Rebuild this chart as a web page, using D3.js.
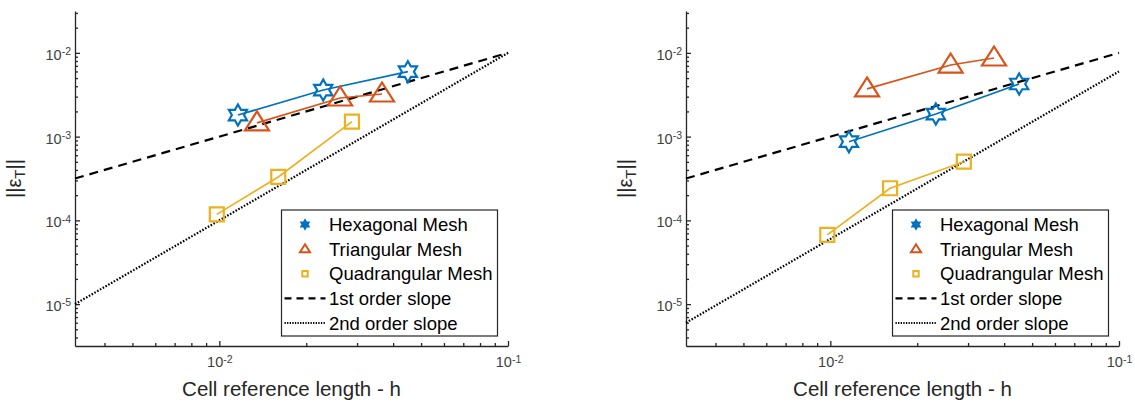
<!DOCTYPE html>
<html>
<head>
<meta charset="utf-8">
<script src="https://cdn.jsdelivr.net/npm/d3@7"></script>
<style>
  body { margin: 0; background: #fff; }
  svg { font-family: "Liberation Sans", Arial, Helvetica, sans-serif; }
  .tick text { font-size: 14.5px; font-family: "Liberation Sans", Arial, sans-serif; fill: #404040; }
  .tick text tspan { font-size: 10.5px; }
</style>
</head>
<body>
<svg id="chart" width="1135" height="403"></svg>
<script>
// mesh sizes (h) and errors
var hexH_a = [0.0116, 0.0229, 0.0450];
var hexErr_a = [1.81e-3, 3.6e-3, 5.96e-3];
var triH_a = [0.0135, 0.0262, 0.0366];
var triErr_a = [1.46e-3, 2.89e-3, 3.23e-3];
var quadH_a = [0.0098, 0.0160, 0.0288];
var quadErr_a = [1.18e-4, 3.3e-4, 1.51e-3];

var hexH_b = [0.0116, 0.0232, 0.0451];
var hexErr_b = [8.7e-4, 1.86e-3, 4.25e-3];
var triH_b = [0.0134, 0.0261, 0.0369];
var triErr_b = [3.71e-3, 7.16e-3, 8.69e-3];
var quadH_b = [0.00976, 0.0161, 0.0290];
var quadErr_b = [6.7e-5, 2.42e-4, 5.02e-4];

// reference slopes
var slopeH = [0.00316228, 0.1];
var slope1_a = [3.16228e-4, 1e-2];
var slope2_a = [1e-5, 1e-2];
var slope1_b = [3.16228e-4, 1e-2];
var slope2_b = [6e-6, 6e-3];

var xMajor = [0.01, 0.1];
var yMajor = [1e-5, 1e-4, 1e-3, 1e-2];
var legendNames = ['Hexagonal Mesh', 'Triangular Mesh', 'Quadrangular Mesh', '1st order slope', '2nd order slope'];

var blue = '#0072bd', orange = '#d95319', yellow = '#edb120';
var axisColor = '#262626';

var svg = d3.select('#chart');

function minorTicks(lo, hi) {
	var out = [];
	for (var e = -6; e <= 0; e++) {
		for (var m = 2; m <= 9; m++) {
			var v = m * Math.pow(10, e);
			if (v > lo * 1.0001 && v < hi * 0.9999) out.push(v);
		}
	}
	return out;
}

function hexagram(r) {
	var pts = [];
	for (var k = 0; k < 12; k++) {
		var ang = -Math.PI / 2 + k * Math.PI / 6;
		var rr = (k % 2 == 0) ? r : r / Math.sqrt(3);
		pts.push([rr * Math.cos(ang), rr * Math.sin(ang)]);
	}
	return 'M' + pts.map(function(p) { return p[0].toFixed(2) + ',' + p[1].toFixed(2); }).join('L') + 'Z';
}
function triangle(s) {
	return 'M0,' + (-11.5 * s) + 'L' + (12 * s) + ',' + (7.5 * s) + 'L' + (-12 * s) + ',' + (7.5 * s) + 'Z';
}
function square(h) {
	return 'M' + (-h) + ',' + (-h) + 'H' + h + 'V' + h + 'H' + (-h) + 'Z';
}

function supLabel(sel) {
	sel.each(function(d) {
		var t = d3.select(this);
		var e = Math.round(Math.log10(d));
		t.text('10');
		t.append('tspan').attr('dy', '-0.45em').text(e);
	});
}

function panel(x0, series, s1, s2) {
	var w = 433, top = 11, h = 335;
	var x = d3.scaleLog().domain([Math.pow(10, -2.5), 0.1]).range([x0, x0 + w]);
	var y = d3.scaleLog().domain([Math.pow(10, -5.5), Math.pow(10, -1.5)]).range([top + h, top]);

	var g = svg.append('g');

	// minor ticks
	g.append('g').attr('transform', 'translate(0,' + (top + h) + ')')
		.call(d3.axisBottom(x).tickValues(minorTicks(x.domain()[0], x.domain()[1])).tickSize(-3).tickFormat(''))
		.call(function(a) { a.select('.domain').remove(); });
	g.append('g').attr('transform', 'translate(' + x0 + ',0)')
		.call(d3.axisLeft(y).tickValues(minorTicks(y.domain()[0], y.domain()[1])).tickSize(-3).tickFormat(''))
		.call(function(a) { a.select('.domain').remove(); });

	var xa = g.append('g').attr('transform', 'translate(0,' + (top + h) + ')')
		.call(d3.axisBottom(x).tickValues(xMajor).tickSizeInner(-5).tickSizeOuter(0).tickPadding(11));
	xa.attr('font-size', 14.5).attr('font-family', '"Liberation Sans", Arial, sans-serif');
	xa.selectAll('.tick text').call(supLabel);
	var ya = g.append('g').attr('transform', 'translate(' + x0 + ',0)')
		.call(d3.axisLeft(y).tickValues(yMajor).tickSizeInner(-5).tickSizeOuter(0).tickPadding(4));
	ya.attr('font-size', 14.5).attr('font-family', '"Liberation Sans", Arial, sans-serif');
	ya.selectAll('.tick text').call(supLabel).attr('dy', '0.45em');

	g.selectAll('.domain, .tick line').attr('stroke', axisColor).attr('stroke-width', 1.3);

	var line = d3.line().x(function(d) { return x(d[0]); }).y(function(d) { return y(d[1]); });

	// reference slopes
	g.append('path').datum(d3.zip(slopeH, s1)).attr('d', line)
		.attr('fill', 'none').attr('stroke', '#000').attr('stroke-width', 2.2).attr('stroke-dasharray', '9,6');
	g.append('path').datum(d3.zip(slopeH, s2)).attr('d', line)
		.attr('fill', 'none').attr('stroke', '#000').attr('stroke-width', 2.2).attr('stroke-dasharray', '1.6,1.6');

	series.forEach(function(s) {
		var pts = d3.zip(s.h, s.err);
		g.append('path').datum(pts).attr('d', line)
			.attr('fill', 'none').attr('stroke', s.color).attr('stroke-width', 1.7);
		g.selectAll(null).data(pts).enter().append('path')
			.attr('transform', function(d) { return 'translate(' + x(d[0]) + ',' + y(d[1]) + ')'; })
			.attr('d', s.shape)
			.attr('fill', 'none').attr('stroke', s.color).attr('stroke-width', 2.2);
	});

	// axis labels
	g.append('text').attr('x', x0 + w / 2).attr('y', 396).attr('text-anchor', 'middle')
		.style('font-size', '20.5px').attr('fill', '#262626').text('Cell reference length - h');
	var yl = g.append('text').attr('transform', 'translate(' + (x0 - 54) + ',' + (top + h / 2) + ') rotate(-90)')
		.attr('text-anchor', 'middle').style('font-size', '20px').attr('fill', '#262626');
	yl.append('tspan').text('||ε');
	yl.append('tspan').attr('dy', '4').style('font-size', '15px').text('T');
	yl.append('tspan').attr('dy', '-4').text('||');

	// legend
	var lx = x0 + 206.5, ly = 210;
	var lg = g.append('g').attr('transform', 'translate(' + lx + ',' + ly + ')');
	lg.append('rect').attr('x', 0).attr('y', 0).attr('width', 216).attr('height', 126)
		.attr('fill', '#fff').attr('stroke', axisColor).attr('stroke-width', 1.2);
	var rowY = d3.scaleLinear().domain([0, 4]).range([14.5, 113]);
	legendNames.forEach(function(name, i) {
		var cy = rowY(i);
		if (i < 3) {
			var s = series[i];
			var shp = i == 0 ? hexagram(5) : (i == 1 ? triangle(0.42) : square(2.7));
			lg.append('path').attr('transform', 'translate(23.5,' + cy + ')').attr('d', shp)
				.attr('fill', i == 0 ? s.color : 'none').attr('stroke', s.color).attr('stroke-width', i == 0 ? 1.2 : 2);
		} else {
			lg.append('line').attr('x1', 3).attr('x2', 44).attr('y1', cy).attr('y2', cy)
				.attr('stroke', '#000').attr('stroke-width', 2.2)
				.attr('stroke-dasharray', i == 3 ? '7,5' : '1.3,1.3');
		}
		lg.append('text').attr('x', 47.5).attr('y', cy + 6.5).style('font-size', '18.5px')
			.attr('fill', '#000').text(name);
	});
}

panel(75, [
	{h: hexH_a, err: hexErr_a, color: blue, shape: hexagram(10.5)},
	{h: triH_a, err: triErr_a, color: orange, shape: triangle(1)},
	{h: quadH_a, err: quadErr_a, color: yellow, shape: square(7)}
], slope1_a, slope2_a);

panel(686, [
	{h: hexH_b, err: hexErr_b, color: blue, shape: hexagram(10.5)},
	{h: triH_b, err: triErr_b, color: orange, shape: triangle(1)},
	{h: quadH_b, err: quadErr_b, color: yellow, shape: square(7)}
], slope1_b, slope2_b);
</script>
</body>
</html>
